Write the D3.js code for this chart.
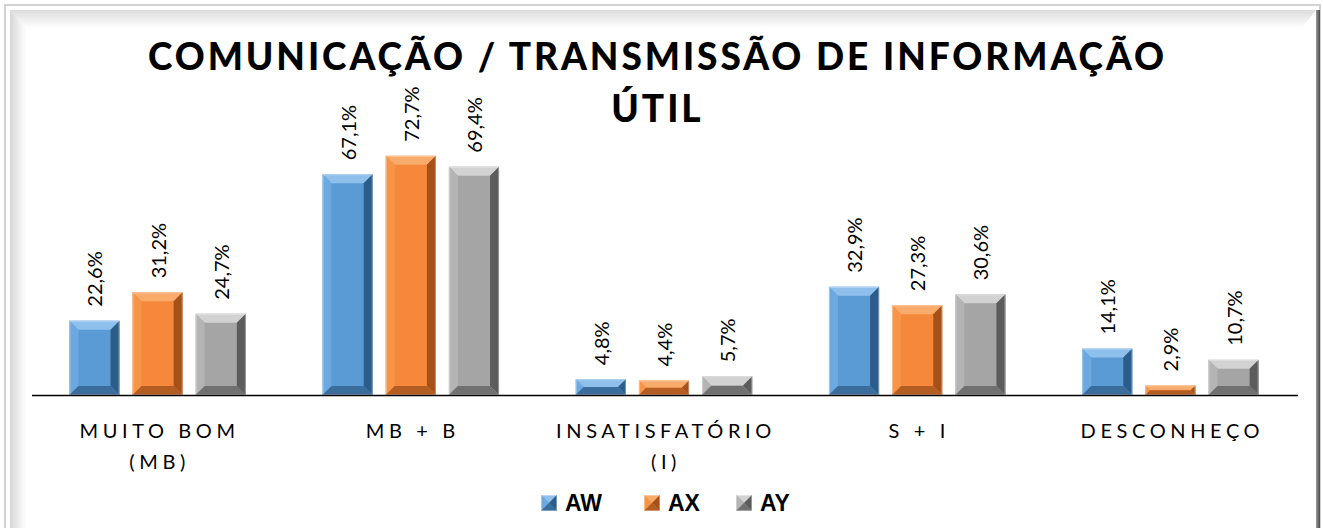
<!DOCTYPE html>
<html>
<head>
<meta charset="utf-8">
<script src="https://cdn.jsdelivr.net/npm/d3@7"></script>
<style>
  html, body { margin: 0; padding: 0; background: #fff; }
  svg { display: block; }
  text { font-family: Lato, "Open Sans", sans-serif; fill: #000; }
</style>
</head>
<body>
<svg id="chart" width="1323" height="528"></svg>
<script>
const TITLE_LINES = ["COMUNICAÇÃO / TRANSMISSÃO DE INFORMAÇÃO", "ÚTIL"];
const CATEGORIES = ["MUITO BOM|(MB)", "MB + B", "INSATISFATÓRIO|(I)", "S + I", "DESCONHEÇO"];
const SERIES = ["AW", "AX", "AY"];
const AW_VALUES = [22.6, 67.1, 4.8, 32.9, 14.1];
const AX_VALUES = [31.2, 72.7, 4.4, 27.3, 2.9];
const AY_VALUES = [24.7, 69.4, 5.7, 30.6, 10.7];

const PALETTE = {
  AW: { face: "#5b9bd5", top: "#8fc0ec", left: "#6ba9e0", right: "#2c5d8a", bottom: "#3a6c9c" },
  AX: { face: "#f5883a", top: "#f9ab6c", left: "#f69548", right: "#a4511a", bottom: "#b45d22" },
  AY: { face: "#a5a5a5", top: "#d2d2d2", left: "#b4b4b4", right: "#5c5c5c", bottom: "#707070" },
};

const width = 1323;
const height = 528;
const svg = d3.select("#chart");

const valuesBySeries = { AW: AW_VALUES, AX: AX_VALUES, AY: AY_VALUES };
const rows = CATEGORIES.map((category, i) => ({
  category,
  values: SERIES.map((key) => ({ key, value: valuesBySeries[key][i] })),
}));

drawFrame();

const x0 = d3.scaleBand()
  .domain(CATEGORIES)
  .range([31, 1297])
  .paddingInner(0.303)
  .paddingOuter(0.1515);

const x1 = d3.scaleBand()
  .domain(SERIES)
  .range([0, x0.bandwidth()])
  .paddingInner(0.206);

const y = d3.scaleLinear().domain([0, 100]).range([395, 66]);

// title, letter spacing fitted to the width of the original
const title = svg.append("g")
  .selectAll("text")
  .data(TITLE_LINES)
  .join("text")
  .attr("y", (d, i) => 70 + i * 52)
  .attr("text-anchor", "start")
  .style("font-size", "37px")
  .style("font-weight", "900")
  .text((d) => d);

const firstLine = title.nodes()[0];
const natural = firstLine.getComputedTextLength();
const spacing = (1016 - natural) / (TITLE_LINES[0].length - 1);
title.style("letter-spacing", `${spacing}px`);
title.attr("x", function () {
  const w = this.getComputedTextLength() - spacing;
  return 656 - w / 2;
});

// bars
const groups = svg.append("g")
  .selectAll("g")
  .data(rows)
  .join("g")
  .attr("transform", (d) => `translate(${x0(d.category)},0)`);

groups.selectAll("g.bar")
  .data((d) => d.values)
  .join("g")
  .attr("class", "bar")
  .each(function (d) {
    const bx = x1(d.key);
    const by = y(d.value);
    drawBevel(d3.select(this), bx, by, x1.bandwidth(), y(0) - by, PALETTE[d.key], 9);
  });

groups.selectAll("text.value")
  .data((d) => d.values)
  .join("text")
  .attr("class", "value")
  .attr("transform", (d) =>
    `translate(${x1(d.key) + x1.bandwidth() / 2 + 1},${y(d.value) - 14}) rotate(-90)`)
  .attr("dy", "0.35em")
  .style("font-size", "20px")
  .text((d) => d3.format(".1f")(d.value).replace(".", ",") + "%");

// axis line
svg.append("line")
  .attr("x1", 32)
  .attr("x2", 1298)
  .attr("y1", y(0) + 0.5)
  .attr("y2", y(0) + 0.5)
  .attr("stroke", "#000")
  .attr("stroke-width", 1.6);

// category labels
const catLabels = svg.append("g")
  .selectAll("text")
  .data(CATEGORIES)
  .join("text")
  .attr("text-anchor", "middle")
  .style("font-size", "20px")
  .style("letter-spacing", "4.6px");

catLabels.selectAll("tspan")
  .data((d) => d.split("|").map((line) => ({ line, cat: d })))
  .join("tspan")
  .attr("x", (d) => x0(d.cat) + x0.bandwidth() / 2 + 2)
  .attr("y", (d, i) => 438 + i * 31)
  .text((d) => d.line);

// legend
const legendX = [541, 644, 736];
const legend = svg.append("g")
  .selectAll("g")
  .data(SERIES)
  .join("g")
  .attr("transform", (d, i) => `translate(${legendX[i]},495)`);

legend.each(function (d) {
  drawBevel(d3.select(this), 0, 0, 16, 16, PALETTE[d], 8);
});

legend.append("text")
  .attr("x", 24)
  .attr("y", 16)
  .style("font-family", "'Liberation Sans', Arial, sans-serif")
  .style("font-size", "23px")
  .style("font-weight", "700")
  .text((d) => d);

function drawBevel(g, x, yTop, w, h, colors, size) {
  const b = Math.min(size, w / 2, h / 2);
  const pts = (arr) => arr.map((p) => p.join(",")).join(" ");
  g.append("rect")
    .attr("x", x).attr("y", yTop).attr("width", w).attr("height", h)
    .attr("fill", colors.face);
  g.append("polygon")
    .attr("points", pts([[x, yTop], [x + w, yTop], [x + w - b, yTop + b], [x + b, yTop + b]]))
    .attr("fill", colors.top);
  g.append("polygon")
    .attr("points", pts([[x, yTop], [x + b, yTop + b], [x + b, yTop + h - b], [x, yTop + h]]))
    .attr("fill", colors.left);
  g.append("polygon")
    .attr("points", pts([[x + w, yTop], [x + w, yTop + h], [x + w - b, yTop + h - b], [x + w - b, yTop + b]]))
    .attr("fill", colors.right);
  g.append("polygon")
    .attr("points", pts([[x, yTop + h], [x + w, yTop + h], [x + w - b, yTop + h - b], [x + b, yTop + h - b]]))
    .attr("fill", colors.bottom);
  g.append("rect")
    .attr("x", x + 0.5).attr("y", yTop + 0.5)
    .attr("width", Math.max(w - 1, 0)).attr("height", Math.max(h - 1, 0))
    .attr("fill", "none")
    .attr("stroke", "#ffffff")
    .attr("stroke-opacity", 0.35)
    .attr("stroke-width", 1);
}

function drawFrame() {
  const defs = svg.append("defs");
  const topGrad = defs.append("linearGradient")
    .attr("id", "frame-top").attr("x1", 0).attr("y1", 0).attr("x2", 0).attr("y2", 1);
  topGrad.append("stop").attr("offset", 0).attr("stop-color", "#dcdcdc");
  topGrad.append("stop").attr("offset", 1).attr("stop-color", "#ffffff");
  const leftGrad = defs.append("linearGradient")
    .attr("id", "frame-left").attr("x1", 0).attr("y1", 0).attr("x2", 1).attr("y2", 0);
  leftGrad.append("stop").attr("offset", 0).attr("stop-color", "#d6d6d6");
  leftGrad.append("stop").attr("offset", 1).attr("stop-color", "#ffffff");
  const rightGrad = defs.append("linearGradient")
    .attr("id", "frame-right").attr("x1", 0).attr("y1", 0).attr("x2", 1).attr("y2", 0);
  rightGrad.append("stop").attr("offset", 0).attr("stop-color", "#9a9a9a");
  rightGrad.append("stop").attr("offset", 1).attr("stop-color", "#4a4a4a");

  svg.append("rect")
    .attr("width", width).attr("height", height).attr("fill", "#fff");
  svg.append("rect")
    .attr("x", 5).attr("y", 5).attr("width", 1315).attr("height", 540)
    .attr("fill", "none").attr("stroke", "#d2d2d2").attr("stroke-width", 2);
  svg.append("polygon")
    .attr("points", "10,10 1316,10 1302,28 26,28")
    .attr("fill", "url(#frame-top)");
  svg.append("polygon")
    .attr("points", "10,10 26,28 26,540 10,540")
    .attr("fill", "url(#frame-left)");
  svg.append("rect")
    .attr("x", 1316).attr("y", 10).attr("width", 4).attr("height", 530)
    .attr("fill", "url(#frame-right)");
}
</script>
</body>
</html>
